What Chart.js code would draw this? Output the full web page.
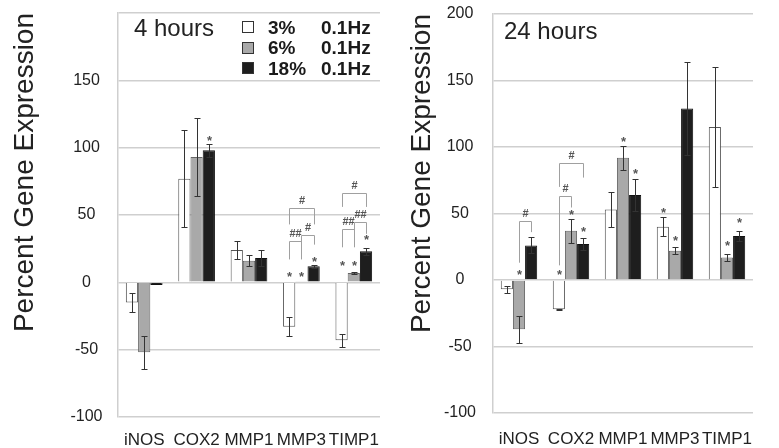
<!DOCTYPE html>
<html>
<head>
<meta charset="utf-8">
<script src="https://cdn.jsdelivr.net/npm/chart.js@4.4.1/dist/chart.umd.min.js"></script>
<style>
  body { margin: 0; background: #fff; font-family: "Liberation Sans", Arial, sans-serif; }
  #wrap { position: relative; width: 779px; height: 448px; overflow: hidden; }
  canvas { position: absolute; top: 0; }
  #c4 { left: 0; }
  #c24 { left: 390px; }
  .panel-title { position: absolute; font-size: 24px; line-height: 1; color: #222; }
  #legend { position: absolute; left: 242px; top: 17px; font-size: 19px; font-weight: bold; color: #1a1a1a; }
  .row { display: flex; align-items: center; height: 20.5px; line-height: 1; }
  .sw { width: 10px; height: 10px; border: 1px solid #333; margin-right: 14px; }
  .pct { width: 53px; }
</style>
</head>
<body>
<div id="wrap">
  <canvas id="c4" width="390" height="448"></canvas>
  <canvas id="c24" width="389" height="448"></canvas>
  <div class="panel-title" style="left:134px; top:16px">4 hours</div>
  <div class="panel-title" style="left:504px; top:19px">24 hours</div>
  <div id="legend"></div>
</div>
<script>
const categories = ["iNOS", "COX2", "MMP1", "MMP3", "TIMP1"];
const strains = ["3%", "6%", "18%"];
const frequency = "0.1Hz";

// 4 hours, mean and error per strain
const h4_3 = [-15, 77, 24, -33, -43];
const h4_3_err = [7, 36, 7, 7, 5];
const h4_6 = [-52, 93, 16, 0.5, 7];
const h4_6_err = [12.5, 29, 4, 0, 1];
const h4_18 = [-2, 98, 18, 12, 23];
const h4_18_err = [0, 5, 6, 1, 2.5];

// 24 hours
const h24_3 = [-7, -22, 53, 40, 115];
const h24_3_err = [2.5, 0.5, 13, 7, 45];
const h24_6 = [-37, 37, 92, 22, 17];
const h24_6_err = [10, 9, 9, 2.5, 2.5];
const h24_18 = [26, 27, 64, 129, 33];
const h24_18_err = [6, 4.5, 12, 35, 4];

// significance: [category, strain, value]
const h4_stars = [[1, 2, 107], [3, 0, 6], [3, 1, 6], [3, 2, 17], [4, 0, 14], [4, 1, 14], [4, 2, 33]];
const h24_stars = [[0, 1, 6], [1, 0, 6], [1, 1, 51], [1, 2, 38], [2, 1, 106], [2, 2, 82],
                   [3, 0, 52], [3, 1, 31], [4, 1, 27.5], [4, 2, 44.5]];
// brackets: [category, from strain, to strain, value, left foot, right foot, mark]
const h4_brackets = [
  [3, 0, 1, 31, 17, 17, "##"], [3, 1, 2, 35, 22, 28, "#"], [3, 0, 2, 55, 43, 43, "#"],
  [4, 0, 1, 39.5, 26, 26, "##"], [4, 1, 2, 45, 31, 36, "##"], [4, 0, 2, 66, 56, 56, "#"]
];
const h24_brackets = [[0, 1, 2, 44, 13, 36, "#"], [1, 0, 1, 63, 11, 54.5, "#"], [1, 0, 2, 88, 70, 77, "#"]];

const fills = ["#ffffff", "#a9a9a9", "#1e1e1e"];
const edges = ["#555555", "#666666", "#111111"];

const marksPlugin = {
  id: "marks",
  afterDatasetsDraw(chart, args, opts) {
    const ctx = chart.ctx;
    const y = chart.scales.y;
    const barX = (c, s) => Math.round(chart.getDatasetMeta(s).data[c].x) + 0.5;
    ctx.save();
    ctx.lineWidth = 1;
    ctx.strokeStyle = "#333";
    chart.data.datasets.forEach((ds, s) => {
      ds.data.forEach((v, c) => {
        const e = ds.errors[c];
        if (!e) return;
        const x = barX(c, s);
        const top = Math.round(y.getPixelForValue(v + e)) + 0.5;
        const bot = Math.round(y.getPixelForValue(v - e)) + 0.5;
        ctx.beginPath();
        ctx.moveTo(x, top); ctx.lineTo(x, bot);
        ctx.moveTo(x - 3, top); ctx.lineTo(x + 3, top);
        ctx.moveTo(x - 3, bot); ctx.lineTo(x + 3, bot);
        ctx.stroke();
      });
    });

    ctx.fillStyle = "#555";
    ctx.textAlign = "center";
    ctx.textBaseline = "middle";
    ctx.font = "bold 13px 'Liberation Sans'";
    opts.stars.forEach(([c, s, v]) => {
      ctx.fillText("*", barX(c, s), y.getPixelForValue(v) + 3);
    });

    ctx.strokeStyle = "#a0a0a0";
    opts.brackets.forEach(([c, a, b, v, f1, f2, mark]) => {
      const x1 = barX(c, a), x2 = barX(c, b);
      const yy = Math.round(y.getPixelForValue(v)) + 0.5;
      ctx.beginPath();
      ctx.moveTo(x1, y.getPixelForValue(f1));
      ctx.lineTo(x1, yy);
      ctx.lineTo(x2, yy);
      ctx.lineTo(x2, y.getPixelForValue(f2));
      ctx.stroke();
      ctx.font = "bold 11px 'Liberation Sans'";
      ctx.fillText(mark, (x1 + x2) / 2, yy - 8);
    });
    ctx.restore();
  }
};

function makeChart(id, values, errors, cfg) {
  return new Chart(document.getElementById(id), {
    type: "bar",
    data: {
      labels: categories,
      datasets: strains.map((s, i) => ({
        label: s + " " + frequency,
        data: values[i],
        errors: errors[i],
        backgroundColor: fills[i],
        borderColor: edges[i],
        borderWidth: 1,
        categoryPercentage: 0.7,
        barPercentage: 1
      }))
    },
    options: {
      responsive: false,
      animation: false,
      layout: { padding: { top: cfg.top, right: cfg.right, left: 0, bottom: 0 } },
      plugins: {
        legend: { display: false },
        tooltip: { enabled: false },
        marks: { stars: cfg.stars, brackets: cfg.brackets }
      },
      scales: {
        x: {
          grid: { drawOnChartArea: false, tickLength: cfg.labelGap, tickColor: "rgba(0,0,0,0)" },
          border: { display: false },
          ticks: {
            color: "#222",
            font: { family: "Liberation Sans", size: 17 },
            padding: 0,
            maxRotation: 0,
            minRotation: 0,
            autoSkip: false
          },
          afterFit: s => { s.height = cfg.xHeight; }
        },
        y: {
          min: -100,
          max: 200,
          ticks: {
            stepSize: 50,
            crossAlign: "center",
            padding: 0,
            color: "#222",
            font: { family: "Liberation Sans", size: 16 },
            callback: v => (cfg.hideTop && v === 200 ? "" : v)
          },
          grid: { color: "#cfcfcf", lineWidth: 1.5, tickLength: cfg.tickPad, tickColor: "rgba(0,0,0,0)" },
          border: { color: "#cfcfcf", width: 1.5 },
          title: {
            display: true,
            text: "Percent Gene Expression",
            align: "end",
            color: "#222",
            font: { family: "Liberation Sans", size: 28 },
            padding: { top: cfg.titlePad, bottom: 0 }
          },
          afterFit: s => { s.width = cfg.yWidth; }
        }
      }
    },
    plugins: [marksPlugin]
  });
}

makeChart("c4", [h4_3, h4_6, h4_18], [h4_3_err, h4_6_err, h4_18_err], {
  top: 13, right: 10, xHeight: 31, labelGap: 13, yWidth: 118, tickPad: 15.5,
  titlePad: 8, hideTop: true, stars: h4_stars, brackets: h4_brackets
});
makeChart("c24", [h24_3, h24_6, h24_18], [h24_3_err, h24_6_err, h24_18_err], {
  top: 14, right: 26, xHeight: 35, labelGap: 16, yWidth: 103, tickPad: 17,
  titlePad: 15, hideTop: false, stars: h24_stars, brackets: h24_brackets
});

// legend for the 4 hour panel
const legend = document.getElementById("legend");
strains.forEach((s, i) => {
  const row = document.createElement("div");
  row.className = "row";
  row.innerHTML = '<span class="sw" style="background:' + fills[i] + '"></span>' +
    '<span class="pct">' + s + '</span><span>' + frequency + '</span>';
  legend.appendChild(row);
});
</script>
</body>
</html>
